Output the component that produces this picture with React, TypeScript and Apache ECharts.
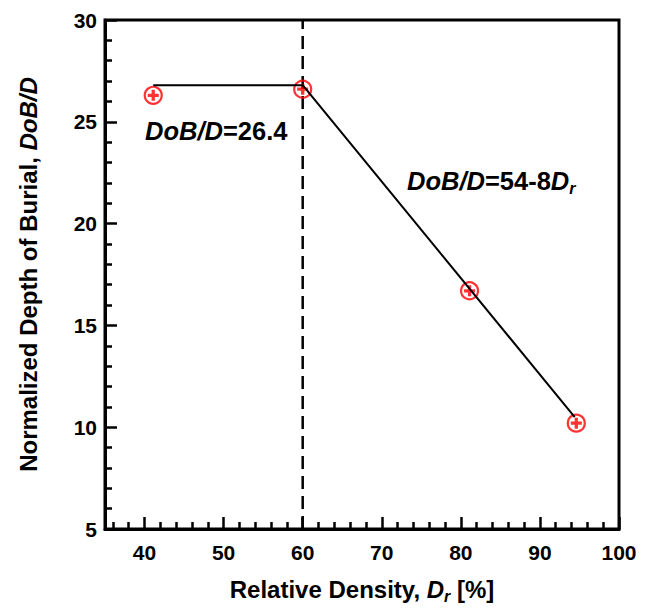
import React, { useEffect, useRef } from "react";
import * as echarts from "echarts";

const pointsX = [41.1, 60.0, 81.1, 94.6];
const pointsY = [26.3, 26.6, 16.7, 10.2];
const fitX = [41.1, 60.0, 94.4];
const fitY = [26.8, 26.8, 10.5];
const boundaryX = 60;
const xMajorTicks = [40, 50, 60, 70, 80, 90, 100];
const xMinorTicks = [36, 38, 42, 44, 46, 48, 52, 54, 56, 58, 62, 64, 66, 68, 72, 74, 76, 78, 82, 84, 86, 88, 92, 94, 96, 98];
const xRange = [35, 100];
const yRange = [5, 30];
const yInterval = 5;

const FONT = "'Liberation Sans', Arial, Helvetica, sans-serif";
const PLUS = "path://M3.5,0h3v3.5h3.5v3h-3.5v3.5h-3v-3.5h-3.5v-3h3.5z";

export default function App() {
  const ref = useRef<HTMLDivElement>(null);
  useEffect(() => {
    if (!ref.current) return;
    const chart = echarts.init(ref.current, null, { renderer: "svg" });
    const pts = pointsX.map((x, i) => [x, pointsY[i]]);
    const fit = fitX.map((x, i) => [x, fitY[i]]);
    const titleRich = {
      b: { fontFamily: FONT, fontSize: 24, fontWeight: "bold", color: "#000", lineHeight: 29 },
      i: { fontFamily: FONT, fontSize: 24, fontWeight: "bold", fontStyle: "italic", color: "#000", lineHeight: 29 },
      s: { fontFamily: FONT, fontSize: 16, fontWeight: "bold", fontStyle: "italic", color: "#000", lineHeight: 16, verticalAlign: "bottom" },
    };
    const annRich = {
      b: { fontFamily: FONT, fontSize: 25.5, fontWeight: "bold", color: "#000", lineHeight: 31 },
      i: { fontFamily: FONT, fontSize: 25.5, fontWeight: "bold", fontStyle: "italic", color: "#000", lineHeight: 31 },
      s: { fontFamily: FONT, fontSize: 16, fontWeight: "bold", fontStyle: "italic", color: "#000", lineHeight: 16, verticalAlign: "bottom" },
    };
    chart.setOption({
      animation: false,
      grid: {
        left: 105, right: 28, top: 20, bottom: 77,
        show: true, borderColor: "#000", borderWidth: 3, backgroundColor: "transparent",
      },
      xAxis: [
        {
          type: "value", min: xRange[0], max: xRange[1],
          name: "{b|Relative Density, }{i|D}{s|r}{b| [%]}",
          nameLocation: "middle", nameGap: 46,
          nameTextStyle: { rich: titleRich },
          axisLine: { show: true, lineStyle: { color: "#000", width: 3 } },
          axisTick: { show: true, inside: true, length: 12, lineStyle: { color: "#000", width: 2.5 }, customValues: xMajorTicks },
          axisLabel: { customValues: xMajorTicks, margin: 13, fontFamily: FONT, fontSize: 21, fontWeight: "bold", color: "#000" },
          splitLine: { show: false },
        },
        {
          type: "value", min: xRange[0], max: xRange[1], position: "bottom",
          axisLine: { show: false },
          axisTick: { show: true, inside: true, length: 7, lineStyle: { color: "#000", width: 2.5 }, customValues: xMinorTicks },
          axisLabel: { show: false },
          splitLine: { show: false },
        },
      ],
      yAxis: {
        type: "value", min: yRange[0], max: yRange[1], interval: yInterval,
        name: "{b|Normalized Depth of Burial, }{i|DoB/D}",
        nameLocation: "middle", nameGap: 62,
        nameTextStyle: { rich: titleRich },
        axisLine: { show: true, lineStyle: { color: "#000", width: 3 } },
        axisTick: { show: true, inside: true, length: 12, lineStyle: { color: "#000", width: 2.5 } },
        minorTick: { show: true, splitNumber: 5, length: 7, lineStyle: { color: "#000", width: 2.5 } },
        axisLabel: { margin: 8, fontFamily: FONT, fontSize: 21, fontWeight: "bold", color: "#000" },
        splitLine: { show: false },
      },
      series: [
        {
          type: "line", xAxisIndex: 0, data: [[boundaryX, yRange[0]], [boundaryX, yRange[1]]],
          symbol: "none", lineStyle: { color: "#000", width: 2.5, type: [13, 7] }, z: 3,
        },
        {
          type: "scatter", xAxisIndex: 0, data: pts, symbol: "circle", symbolSize: 17,
          itemStyle: { color: "rgba(255,255,255,0)", borderColor: "#ff0000", borderWidth: 2.2 }, z: 4,
        },
        {
          type: "scatter", xAxisIndex: 0, data: pts, symbol: PLUS, symbolSize: 11,
          itemStyle: { color: "#ff0000" }, z: 4,
        },
        {
          type: "line", xAxisIndex: 0, data: fit, symbol: "none",
          lineStyle: { color: "#000", width: 2 }, z: 5,
        },
      ],
      graphic: [
        {
          type: "text", x: 145, y: 131,
          style: { text: "{i|DoB/D}{b|=26.4}", rich: annRich, verticalAlign: "middle", align: "left" },
        },
        {
          type: "text", x: 407, y: 181,
          style: { text: "{i|DoB/D}{b|=54-8}{i|D}{s|r}", rich: annRich, verticalAlign: "middle", align: "left" },
        },
      ],
    });
    return () => chart.dispose();
  }, []);
  return <div ref={ref} style={{ width: 647, height: 609, position: "absolute", left: 0, top: 0 }} />;
}
